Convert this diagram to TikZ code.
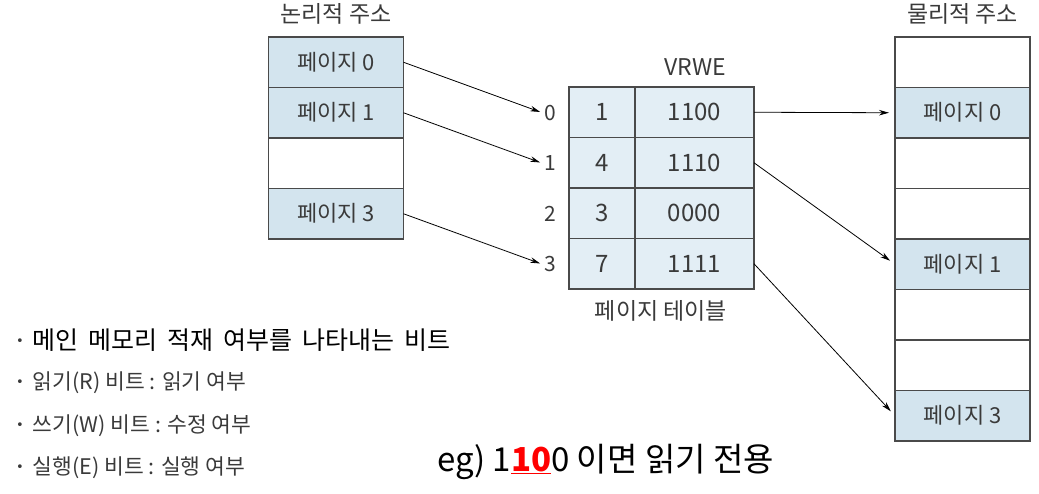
\documentclass[tikz,border=0pt]{standalone}
\usepackage{fontspec}
\setmainfont{Noto Sans CJK KR}
\newfontfamily\dejavu{DejaVu Sans}
\usetikzlibrary{arrows.meta}
\definecolor{cellblue}{HTML}{D3E4EE}
\definecolor{tabblue}{HTML}{E3EEF5}
\definecolor{linegray}{HTML}{4A4A4A}
\definecolor{txtgray}{HTML}{3A3A3A}
\newcommand{\bdot}{\raisebox{3.5pt}{\dejavu\fontsize{13}{14}\selectfont\color{txtgray}•}}
\tikzset{
  cell/.style={draw=linegray, line width=1.1pt, minimum width=135pt, minimum height=50.5pt, inner sep=0pt, outer sep=0pt, font=\fontsize{22}{24}\selectfont, text=txtgray},
  pg/.style={cell, fill=cellblue},
  emp/.style={cell, fill=white},
  tc1/.style={cell, fill=tabblue, minimum width=66pt, font=\fontsize{24}{26}\selectfont},
  tc2/.style={cell, fill=tabblue, minimum width=119pt, font=\fontsize{24}{26}\selectfont},
  lbl/.style={font=\fontsize{21}{23}\selectfont, text=txtgray, inner sep=1pt},
  ttl/.style={font=\fontsize{23}{25}\selectfont, text=txtgray},
  arr/.style={-{Stealth[length=10pt,width=5.5pt]}, line width=0.8pt, black},
  bul/.style={anchor=west, inner sep=0pt, text=txtgray, font=\fontsize{21.5}{23}\selectfont}
}
\begin{document}
\begin{tikzpicture}[x=1pt,y=1pt]
\useasboundingbox (0,0) rectangle (1039,-493);
% logical address
\node[ttl] (ltitle) at (336,-14) {논리적 주소};
\node[pg]  (lp0) at (336,-62.25) {페이지 0};
\node[pg]  (lp1) at (336,-112.75) {페이지 1};
\node[emp] (lp2) at (336,-163.25) {};
\node[pg]  (lp3) at (336,-213.75) {페이지 3};
% page table
\node[ttl] (vrwe) at (695,-67) {VRWE};
\foreach \i/\f/\b in {0/1/1100,1/4/1110,2/3/0000,3/7/1111}{
  \node[tc1] (ta\i) at (602,-112.25-50.5*\i) {\f};
  \node[tc2] (tb\i) at (694.5,-112.25-50.5*\i) {\b};
  \node[lbl] (ix\i) at (550,-113-50.5*\i) {\i};
}
\node[ttl] (ptitle) at (661,-311) {페이지 테이블};
% physical address
\node[ttl] (ptit) at (962.5,-14) {물리적 주소};
\node[emp] (r0) at (962.5,-62.25) {};
\node[pg]  (r1) at (962.5,-112.75) {페이지 0};
\node[emp] (r2) at (962.5,-163.25) {};
\node[emp] (r3) at (962.5,-213.75) {};
\node[pg]  (r4) at (962.5,-264.25) {페이지 1};
\node[emp] (r5) at (962.5,-314.75) {};
\node[emp] (r6) at (962.5,-365.25) {};
\node[pg]  (r7) at (962.5,-415.75) {페이지 3};
% arrows
\draw[arr, shorten >=3pt] (lp0.east) -- (ix0.west);
\draw[arr, shorten >=3pt] (lp1.east) -- (ix1.west);
\draw[arr, shorten >=3pt] (lp3.east) -- (ix3.west);
\draw[arr, shorten >=6pt] (tb0.east) -- (r1.west);
\draw[arr, shorten >=6pt] (tb1.east) -- (r4.west);
\draw[arr, shorten >=6pt] (tb3.east) -- (r7.west);
% bullets
\node[bul, text=black, font=\fontsize{25}{27}\selectfont] (b1) at (16,-340) {\spaceskip=10pt\relax\bdot\hspace{9pt}메인 메모리 적재 여부를 나타내는 비트};
\node[bul] (b2) at (16,-383) {\bdot\hspace{9pt}읽기(R) 비트 : 읽기 여부};
\node[bul] (b3) at (16,-426) {\bdot\hspace{9pt}쓰기(W) 비트 : 수정 여부};
\node[bul] (b4) at (16,-468) {\bdot\hspace{9pt}실행(E) 비트 : 실행 여부};
% example
\node[anchor=west, inner sep=0pt, font=\fontsize{33}{36}\selectfont] (eg) at (437,-462) {eg) 1\textcolor{red}{\underline{\textbf{10}}}0 이면 읽기 전용};
\end{tikzpicture}
\end{document}
